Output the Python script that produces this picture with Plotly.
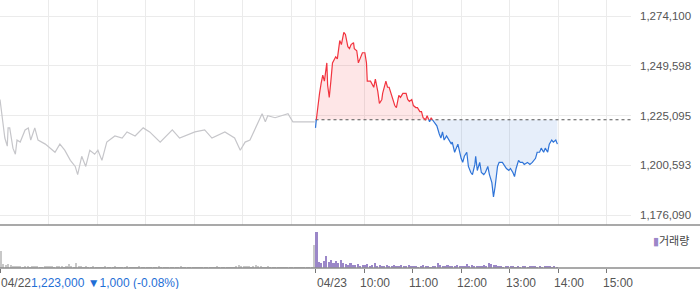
import plotly.graph_objects as go

# ---------------- data ----------------
# minutes since 09:00 (04/22 session = 0..390, 04/23 session = 390..780)
day1_min = [0, 6, 9, 10, 12, 16, 19, 21, 25, 31, 35, 38, 43, 47, 56, 62, 68, 74, 80, 87,
            93, 96, 101, 106, 111, 117, 121, 126, 132, 142, 151, 157, 167, 177, 185, 198,
            213, 222, 241, 253, 262, 278, 290, 297, 303, 309, 315, 319, 324, 328, 331,
            340, 349, 356, 362, 371, 386, 389]
day1_price_k = [1233, 1214, 1210, 1219, 1219, 1209, 1206, 1213, 1212, 1218, 1219, 1213, 1219,
                1213, 1211, 1209, 1207, 1211, 1208, 1203, 1200, 1196, 1205, 1200, 1208, 1206,
                1208, 1203, 1212, 1215, 1214, 1217, 1215, 1219, 1217, 1212, 1218, 1214, 1217,
                1218, 1214, 1217, 1214, 1208, 1212, 1213, 1218, 1221, 1226, 1222, 1225, 1224,
                1225, 1226, 1222, 1222, 1222, 1222]

day2_min = [0, 1, 2, 5, 7, 9, 11, 14, 15, 17, 19, 21, 25, 27, 30, 32, 35, 37, 40, 42,
            44, 47, 48, 51, 53, 56, 58, 61, 63, 64, 68, 72, 74, 77, 79, 82, 83, 87, 89, 91,
            94, 98, 100, 103, 105, 108, 112, 114, 116, 119, 121, 124, 126, 129, 131, 133,
            136, 138, 141, 143, 146, 150, 153, 155, 157, 159, 162, 166, 168, 169, 172, 176,
            178, 180, 182, 184, 187, 189, 192, 194, 197, 198, 200, 203, 205, 208, 210, 213,
            215, 218, 220, 221, 222, 225, 227, 231, 234, 236, 239, 241, 244, 246, 248, 251,
            253, 256, 258, 262, 265, 268, 272, 274, 277, 279, 282, 284, 287, 289, 292, 294,
            297, 299]
day2_price_k = [1219, 1223, 1227, 1236, 1241, 1245, 1242, 1251, 1240, 1234,
                1242, 1251, 1254, 1253, 1262, 1260, 1266, 1265, 1259, 1258,
                1260, 1261, 1258, 1257, 1251, 1254, 1256, 1256, 1251, 1242,
                1242, 1239, 1243, 1237, 1231, 1233, 1236, 1242, 1239, 1239,
                1235, 1230, 1229, 1235, 1234, 1236, 1236, 1233, 1232, 1233,
                1230, 1229, 1229, 1227, 1227, 1224, 1223, 1225, 1222, 1224,
                1222, 1220, 1216, 1214, 1217, 1213, 1215, 1212, 1211, 1212,
                1207, 1211, 1207, 1204, 1202, 1205, 1207, 1200, 1197, 1196,
                1201, 1205, 1198, 1202, 1197, 1196, 1197, 1200, 1196, 1192,
                1185, 1187, 1190, 1200, 1202, 1202, 1200, 1199, 1198, 1199,
                1197, 1195, 1199, 1203, 1202, 1202, 1201, 1202, 1201, 1202,
                1204, 1207, 1207, 1209, 1207, 1209, 1207, 1211, 1213, 1212,
                1213, 1211]

prev_close = 1223000
y_tick_min = 1176090
y_tick_max = 1274100

# volume in 3-minute buckets (relative units)
vol_bucket = 3
vol_day1 = [17, 4, 3, 4, 3, 2,
            2, 2, 2, 1, 2, 2, 1, 2, 2, 2, 1, 1, 2, 2, 2,
            2, 1, 2, 2, 2, 1, 2, 4, 2, 1,
            5, 2, 2, 1, 2, 1, 1, 2, 1, 1,
            1, 1, 2, 1, 1, 1, 2, 1, 1, 1, 1, 2, 1, 1, 1, 1, 2, 1, 1, 1,
            1, 1, 1, 1, 2, 1, 1, 1, 1, 1, 1, 1, 1, 2, 1, 1, 1, 1, 1, 1,
            1, 1, 1, 1, 1, 1, 1, 1, 2, 1, 1, 1, 1, 1, 1, 1, 2, 3, 2, 2,
            2, 2, 1, 2, 3, 2, 2, 1, 1, 2, 1, 1, 1, 1, 1, 1, 1, 1, 1, 1,
            1, 1, 1, 1, 1, 1, 1, 1,
            23]
vol_day2 = [36, 6, 5, 7, 12, 6, 8, 5, 7, 5, 8,
            5, 4, 3, 5, 3, 3, 4, 2, 3, 3,
            4, 2, 3, 5, 2, 3, 2, 2, 3, 2,
            2, 3, 2, 2, 3, 2, 2, 3, 2, 2,
            2, 1, 2, 3, 2, 2, 1, 2, 2, 5,
            3, 2, 2, 3, 2, 2, 2, 3, 2, 2,
            2, 4, 2, 3, 2, 2, 2, 2, 3, 2,
            5, 4, 3, 3, 2, 2, 1, 2, 2, 2,
            2, 1, 2, 1, 2, 2, 1, 2, 2, 2,
            1, 2, 1, 2, 2, 2, 1, 2, 1]

axis_labels = ["04/22", "04/23", "10:00", "11:00", "12:00", "13:00", "14:00", "15:00"]
axis_label_min = [0, 390, 450, 510, 570, 630, 690, 750]
grid_min = [60, 120, 180, 240, 300, 360, 390, 450, 510, 570, 630, 690, 750]
day_len = 390
x_end = 780
summary_price = "1,223,000"
summary_change = "▼1,000 (-0.08%)"

# ---------------- derived ----------------
d1x = day1_min
d1y = [p * 1000 for p in day1_price_k]
d2x = [day_len + m for m in day2_min]
d2y = [p * 1000 for p in day2_price_k]

# insert crossing points with the previous-close baseline
cx, cy = [d2x[0]], [d2y[0]]
for i in range(1, len(d2x)):
    x0, y0, x1, y1 = d2x[i - 1], d2y[i - 1], d2x[i], d2y[i]
    if (y0 - prev_close) * (y1 - prev_close) < 0:
        t = (prev_close - y0) / (y1 - y0)
        cx.append(x0 + t * (x1 - x0))
        cy.append(prev_close)
    cx.append(x1)
    cy.append(y1)

up_y = [max(v, prev_close) for v in cy]
dn_y = [min(v, prev_close) for v in cy]
red_line = [v if v >= prev_close else None for v in cy]
blue_line = [v if v <= prev_close else None for v in cy]

# layout geometry (pixels)
W, H = 700, 289
plot_w = 631
plot_bottom = 268
main_bottom_px = 225
vol_top_px = 226
tick_top_px, tick_bot_px = 16, 215

span = y_tick_max - y_tick_min
per_px = span / (tick_bot_px - tick_top_px)
y_hi = y_tick_max + per_px * tick_top_px
y_lo = y_tick_min - per_px * (main_bottom_px - tick_bot_px)
ytickvals = [y_tick_min + span * i / 4 for i in range(5)]
yticktext = [f"{int(v + 0.5):,}" for v in ytickvals]

main_dom = [(plot_bottom - main_bottom_px) / plot_bottom, 1]
vol_dom = [0, (plot_bottom - vol_top_px) / plot_bottom]

vmax = max(vol_day1 + vol_day2)
vol_range = [0, vmax * (plot_bottom - vol_top_px) / 36]

v1x = [i * vol_bucket + vol_bucket / 2 for i in range(len(vol_day1))]
v2x = [day_len + i * vol_bucket + vol_bucket / 2 for i in range(len(vol_day2))]

RED = "#f2343f"
BLUE = "#2f74d8"
GRAY_LINE = "#c6c6ca"
PURPLE = "#9b87c8"
FONT = "Liberation Sans, Arial, Noto Sans CJK KR"

fig = go.Figure()

fig.add_trace(go.Scatter(x=d1x, y=d1y, mode="lines",
                         line=dict(color=GRAY_LINE, width=1.2), hoverinfo="skip"))
# red fill
fig.add_trace(go.Scatter(x=cx, y=[prev_close] * len(cx), mode="lines",
                         line=dict(width=0), hoverinfo="skip"))
fig.add_trace(go.Scatter(x=cx, y=up_y, mode="lines", fill="tonexty",
                         fillcolor="rgba(245,60,70,0.13)", line=dict(width=0),
                         hoverinfo="skip"))
# blue fill
fig.add_trace(go.Scatter(x=cx, y=[prev_close] * len(cx), mode="lines",
                         line=dict(width=0), hoverinfo="skip"))
fig.add_trace(go.Scatter(x=cx, y=dn_y, mode="lines", fill="tonexty",
                         fillcolor="rgba(60,120,215,0.13)", line=dict(width=0),
                         hoverinfo="skip"))
# baseline
fig.add_trace(go.Scatter(x=[day_len, x_end], y=[prev_close, prev_close], mode="lines",
                         line=dict(color="#555555", width=1, dash="dot"), hoverinfo="skip"))
fig.add_trace(go.Scatter(x=cx, y=red_line, mode="lines",
                         line=dict(color=RED, width=1.2), hoverinfo="skip"))
fig.add_trace(go.Scatter(x=cx, y=blue_line, mode="lines",
                         line=dict(color=BLUE, width=1.2), hoverinfo="skip"))

fig.add_trace(go.Bar(x=v1x, y=vol_day1, width=2, marker=dict(color="#c8c8c8", line=dict(width=0)),
                     xaxis="x2", yaxis="y2", hoverinfo="skip"))
fig.add_trace(go.Bar(x=v2x, y=vol_day2, width=2, marker=dict(color=PURPLE, line=dict(width=0)),
                     xaxis="x2", yaxis="y2", hoverinfo="skip"))

label_y = (plot_bottom - 283) / plot_bottom
annotations = []
for lab, m in zip(axis_labels, axis_label_min):
    off = 0 if lab.startswith("04") else -5
    annotations.append(dict(x=m, xref="x2", xshift=off, y=label_y,
                            yref="paper", text=lab, showarrow=False, xanchor="left",
                            yanchor="middle", borderpad=0,
                            font=dict(size=12, color="#555555", family=FONT)))
annotations.append(dict(x=30 / plot_w, xref="paper", y=label_y,
                        yref="paper", text=summary_price + " " + summary_change,
                        showarrow=False, xanchor="left", yanchor="middle", borderpad=0,
                        font=dict(size=12, color="#1f6fd6", family=FONT)))
annotations.append(dict(x=651 / plot_w, xref="paper", y=(plot_bottom - 240) / plot_bottom,
                        yref="paper",
                        text=f"<span style='color:{PURPLE}'>▮</span>거래량",
                        showarrow=False, xanchor="left", yanchor="middle",
                        font=dict(size=11, color="#444444",
                                  family="Noto Sans CJK KR, Liberation Sans")))

line_y = [(plot_bottom - main_bottom_px) / plot_bottom, 0]
shapes = [dict(type="line", xref="paper", yref="paper", x0=0, x1=W / plot_w,
               y0=yy, y1=yy, line=dict(color="#8c8c8c", width=1.5)) for yy in line_y]

fig.update_layout(
    width=W, height=H,
    margin=dict(l=0, r=W - plot_w, t=0, b=H - plot_bottom, pad=0),
    paper_bgcolor="white", plot_bgcolor="white",
    showlegend=False, bargap=0,
    font=dict(family=FONT, size=11, color="#555555"),
    xaxis=dict(domain=[0, 1], range=[0, x_end], anchor="y",
               tickvals=grid_min, showticklabels=False, ticks="",
               showgrid=True, gridcolor="#ebebeb", gridwidth=1,
               zeroline=False, showline=False, fixedrange=True),
    yaxis=dict(domain=main_dom, range=[y_lo, y_hi], side="right", anchor="x",
               tickvals=ytickvals, ticktext=yticktext, ticks="",
               ticklabelstandoff=8,
               tickfont=dict(size=11.5, color="#555555", family=FONT),
               showgrid=True, gridcolor="#ebebeb", gridwidth=1,
               zeroline=False, showline=False),
    xaxis2=dict(domain=[0, 1], range=[0, x_end], anchor="y2",
                tickvals=axis_label_min, showticklabels=False,
                ticks="outside", ticklen=4, tickcolor="#777777", tickwidth=1,
                showgrid=False, zeroline=False, showline=False),
    yaxis2=dict(domain=vol_dom, range=vol_range, anchor="x2",
                showticklabels=False, showgrid=False, zeroline=False, ticks=""),
    annotations=annotations,
    shapes=shapes,
)

fig.write_html("out.html")
